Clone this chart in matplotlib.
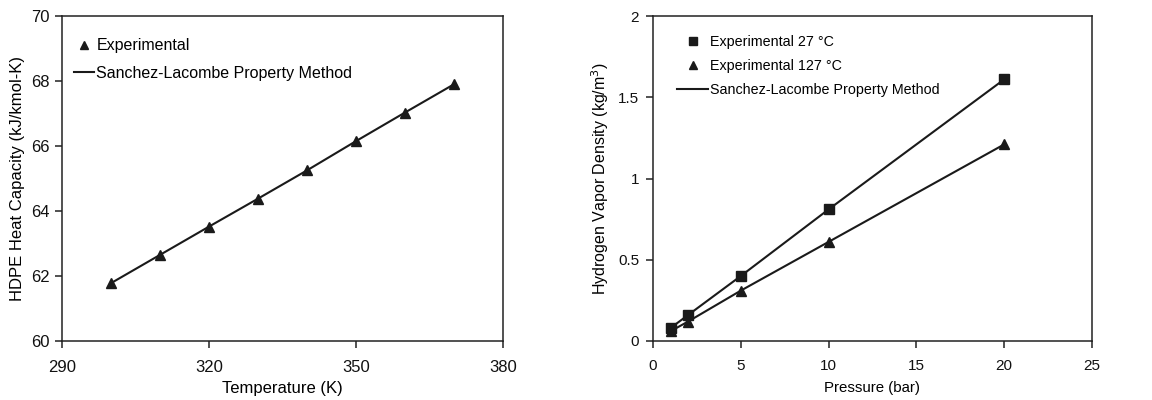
import matplotlib
matplotlib.use("Agg")
import matplotlib.pyplot as plt
from matplotlib.lines import Line2D

plt.rcParams['font.family'] = ['Liberation Sans', 'DejaVu Sans']

# Left panel data
temperature = [300, 310, 320, 330, 340, 350, 360, 370]
heat_cap_exp = [61.78, 62.65, 63.52, 64.38, 65.25, 66.15, 67.03, 67.9]
heat_cap_model = [61.78, 62.65, 63.52, 64.38, 65.25, 66.15, 67.03, 67.9]

# Right panel data
pressure = [1, 2, 5, 10, 20]
dens_27_exp = [0.08, 0.16, 0.40, 0.81, 1.61]
dens_127_exp = [0.06, 0.12, 0.31, 0.61, 1.21]
dens_27_model = [0.08, 0.16, 0.40, 0.81, 1.61]
dens_127_model = [0.06, 0.12, 0.31, 0.61, 1.21]

left_xticks = [290, 320, 350, 380]
left_yticks = [60, 62, 64, 66, 68, 70]
right_xticks = [0, 5, 10, 15, 20, 25]
right_yticks = [0, 0.5, 1, 1.5, 2]
right_yticklabels = ['0', '0.5', '1', '1.5', '2']

INK = '#1a1a1a'

fig = plt.figure(figsize=(11.52, 4.0), dpi=100)
ax1 = fig.add_axes([62/1152, 1-341/400, (503-62)/1152, (341-16)/400])
ax2 = fig.add_axes([653/1152, 1-341/400, (1092-653)/1152, (341-16)/400])

for ax in (ax1, ax2):
    for s in ax.spines.values():
        s.set_linewidth(1.1)
        s.set_color('#222222')
    ax.tick_params(direction='out', length=5, width=1.1, colors='#222222', top=False, right=False)

# Left
ax1.plot(temperature, heat_cap_model, color=INK, lw=1.5)
ax1.plot(temperature, heat_cap_exp, ls='none', marker='^', ms=6.5, color=INK)
ax1.set_xlim(290, 380)
ax1.set_ylim(60, 70)
ax1.set_xticks(left_xticks)
ax1.set_yticks(left_yticks)
ax1.tick_params(labelsize=12, labelcolor='#111111')
ax1.tick_params(axis='x', pad=9)
ax1.tick_params(axis='y', pad=4)
ax1.set_xlabel('Temperature (K)', fontsize=12, labelpad=4)
ax1.set_ylabel('HDPE Heat Capacity (kJ/kmol-K)', fontsize=12, labelpad=4)
h1 = [Line2D([], [], ls='none', marker='^', ms=6, color=INK),
      Line2D([], [], color=INK, lw=1.5)]
ax1.legend(h1, ['Experimental', 'Sanchez-Lacombe Property Method'], loc='upper left',
           frameon=False, fontsize=11.5, handlelength=1.25, handletextpad=0.15,
           labelspacing=0.8, bbox_to_anchor=(0.027, 0.932), borderaxespad=0.0, borderpad=0.0)

# Right
ax2.plot(pressure, dens_27_model, color=INK, lw=1.5)
ax2.plot(pressure, dens_127_model, color=INK, lw=1.5)
ax2.plot(pressure, dens_27_exp, ls='none', marker='s', ms=6.5, color=INK)
ax2.plot(pressure, dens_127_exp, ls='none', marker='^', ms=6.5, color=INK)
ax2.set_xlim(0, 25)
ax2.set_ylim(0, 2)
ax2.set_xticks(right_xticks)
ax2.set_yticks(right_yticks)
ax2.set_yticklabels(right_yticklabels)
ax2.tick_params(labelsize=11, labelcolor='#111111')
ax2.tick_params(axis='x', pad=8)
ax2.tick_params(axis='y', pad=5)
ax2.set_xlabel('Pressure (bar)', fontsize=10.8, labelpad=6)
ax2.set_ylabel('Hydrogen Vapor Density (kg/m$^3$)', fontsize=11.5, labelpad=5)
h2 = [Line2D([], [], ls='none', marker='s', ms=5.5, color=INK),
      Line2D([], [], ls='none', marker='^', ms=5.5, color=INK),
      Line2D([], [], color=INK, lw=1.5)]
ax2.legend(h2, ['Experimental 27 °C', 'Experimental 127 °C', 'Sanchez-Lacombe Property Method'],
           loc='upper left', frameon=False, fontsize=10.3, handlelength=2.15, handletextpad=0.15,
           labelspacing=0.72, bbox_to_anchor=(0.055, 0.942), borderaxespad=0.0, borderpad=0.0)

fig.savefig('out.png', dpi=100)
